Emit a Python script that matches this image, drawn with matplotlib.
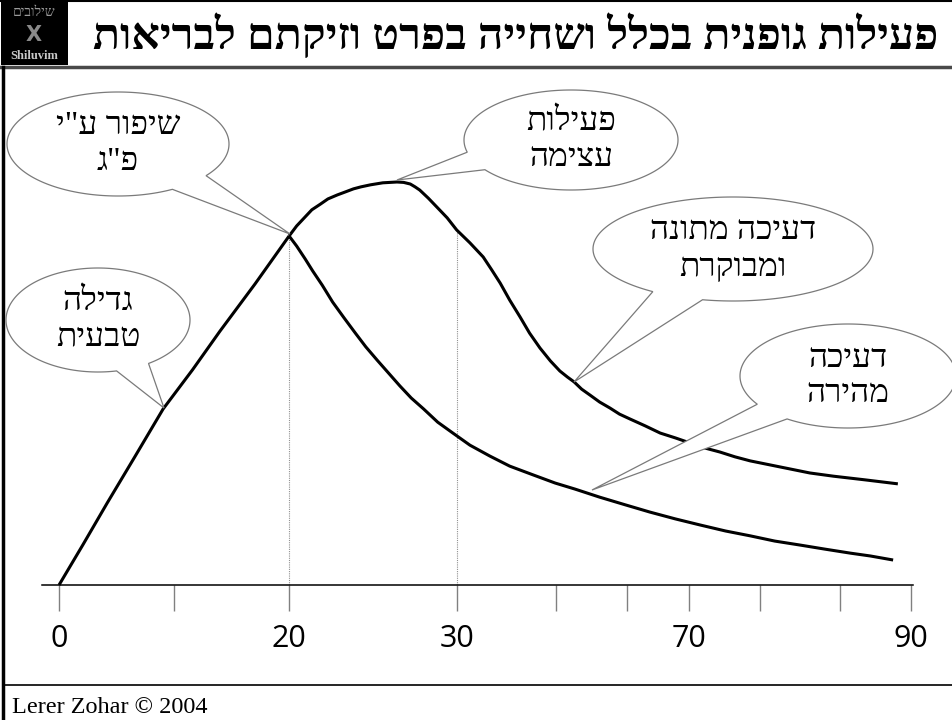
import numpy as np
import matplotlib.pyplot as plt
from matplotlib.patches import Polygon, Rectangle

# ----------------------------------------------------------------------------
# Dados (eixo conceitual: 0..90 no eixo x, atividade relativa 0..100 no eixo y)
# ----------------------------------------------------------------------------

tick_pos = [0, 12.1, 24.3, 42.0, 52.5, 60.0, 66.5, 74.0, 82.5, 90.0]
tick_labels = ['0', '', '20', '30', '', '', '70', '', '', '90']

# crescimento natural
rise_x = [0, 2.5, 5.1, 8.0, 11.0, 14.1, 17.0, 20.7, 24.3]
rise_y = [0, 9.9, 20.4, 31.8, 43.7, 53.4, 63.0, 74.7, 86.6]

# atividade intensa + declinio moderado
sustained_x = [24.3, 25.1, 25.9, 26.7, 27.6, 28.4, 29.4, 30.2, 31.1, 31.9, 32.9,
               34.2, 35.7, 36.4, 37.1, 37.6, 38.1, 39.0, 39.9, 41.0, 42.0,
               43.4, 44.8, 45.7, 46.6, 47.6, 48.7, 49.7, 50.8, 51.9, 52.9,
               53.7, 54.4, 55.2, 56.1, 57.1, 58.2, 59.2, 60.3, 61.9, 63.5,
               65.1, 66.7, 68.2, 69.8, 71.4, 73.0, 75.1, 77.2, 79.3, 81.8,
               85.1, 88.6]
sustained_y = [86.6, 89.1, 91.1, 93.1, 94.5, 95.8, 96.8, 97.5, 98.3, 98.8, 99.3,
               99.8, 100.0, 99.9, 99.5, 98.8, 98.0, 96.0, 93.8, 91.1, 88.1,
               84.9, 81.4, 78.2, 74.9, 70.7, 66.5, 62.5, 58.8, 55.6, 53.1,
               51.6, 50.4, 48.6, 47.1, 45.4, 43.9, 42.4, 41.2, 39.5, 37.7,
               36.5, 35.2, 34.0, 33.0, 31.8, 30.8, 29.8, 28.8, 27.8, 27.0,
               26.1, 25.1]

# declinio rapido
rapid_x = [24.3, 25.1, 26.0, 26.8, 27.8, 28.9, 30.1, 31.3, 32.4, 33.6, 34.8,
           36.0, 37.2, 38.5, 40.0, 41.6, 43.4, 45.5, 47.6, 50.1, 52.4,
           54.5, 57.1, 59.8, 62.4, 65.1, 67.7, 70.4, 73.0, 75.6, 78.3,
           80.9, 83.6, 85.7, 88.1]
rapid_y = [86.6, 84.1, 80.9, 77.9, 74.4, 70.2, 66.3, 62.5, 59.1, 55.8, 52.6,
           49.4, 46.4, 43.7, 40.4, 37.7, 34.7, 32.0, 29.5, 27.3, 25.3,
           23.8, 21.8, 19.9, 18.1, 16.4, 14.9, 13.4, 12.2, 10.9, 9.9,
           8.9, 7.9, 7.2, 6.2]

TITLE = 'פעילות גופנית בכלל ושחייה בפרט וזיקתם לבריאות'

HEB = ['Liberation Serif', 'DejaVu Sans']
EDGE = '#7a7a7a'


def rtl(s):
    # matplotlib nao faz bidi: inverte a ordem dos caracteres
    return s[::-1]


def callout(ax, center, a, b, base1, base2, tip, lines, dy=36, size=24):
    '''Balao eliptico com "rabo" (pixels, eixo y para baixo).'''
    cx, cy = center
    t1 = np.arctan2((base1[1] - cy) / b, (base1[0] - cx) / a)
    t2 = np.arctan2((base2[1] - cy) / b, (base2[0] - cx) / a)
    if (t2 - t1) % (2 * np.pi) > np.pi:
        t1, t2 = t2, t1
    t1 = t1 + 2 * np.pi if t1 < t2 else t1
    tt = np.linspace(t2, t1 if t1 > t2 else t1 + 2 * np.pi, 200)
    pts = np.column_stack([cx + a * np.cos(tt), cy + b * np.sin(tt)])
    pts = np.vstack([pts, tip])
    ax.add_patch(Polygon(pts, closed=True, facecolor='white', edgecolor=EDGE,
                         lw=0.9, zorder=5))
    y0 = cy - dy * (len(lines) - 1) / 2
    for i, line in enumerate(lines):
        ax.text(cx, y0 + i * dy, rtl(line), ha='center', va='center',
                fontsize=size, family=HEB, zorder=6)


fig = plt.figure(figsize=(9.52, 7.2), dpi=100)
fig.patch.set_facecolor('white')

# ---------------- grafico ----------------
ax = fig.add_axes([42 / 952, 135 / 720, 871 / 952, 403 / 720])
ax.set_facecolor('none')
ax.set_xlim(-1.8, 90.2)
ax.set_ylim(0, 100)
for s in ['left', 'right', 'top']:
    ax.spines[s].set_visible(False)
ax.spines['bottom'].set_linewidth(1.1)
ax.set_yticks([])
ax.set_xticks(tick_pos)
ax.set_xticklabels(tick_labels, fontsize=22, family='Open Sans')
ax.tick_params(axis='x', direction='out', length=19, width=1.0,
               color='#808080', pad=9)

y20 = rise_y[-1]
y30 = np.interp(tick_pos[3], sustained_x, sustained_y)
ax.vlines([tick_pos[2], tick_pos[3]], 0, [y20, y30], colors='#909090',
          linestyles=(0, (1, 1)), lw=0.8)

for xs, ys in [(rise_x, rise_y), (sustained_x, sustained_y), (rapid_x, rapid_y)]:
    ax.plot(xs, ys, color='black', lw=2.2, solid_capstyle='butt',
            solid_joinstyle='round', clip_on=False)

# ---------------- moldura, titulo e baloes (pixels) ----------------
ov = fig.add_axes([0, 0, 1, 1], zorder=3)
ov.set_xlim(0, 952)
ov.set_ylim(720, 0)
ov.axis('off')

ov.plot([0, 952], [1, 1], color='black', lw=1.5)
ov.plot([0, 952], [67, 67], color='#4a4a4a', lw=2.5)
ov.plot([3, 3], [67, 720], color='black', lw=2.5)
ov.plot([3, 952], [685, 685], color='black', lw=1.2)

# logo
ov.add_patch(Rectangle((1, 1), 67, 64, facecolor='black', edgecolor='none'))
ov.text(34, 13, rtl('שילובים'), ha='center', va='center', fontsize=10,
        color='#9a9a9a', family=HEB)
ov.text(34, 35, 'X', ha='center', va='center', fontsize=15, color='#8a8a8a',
        fontweight='bold', family='DejaVu Sans')
ov.text(34, 56, 'Shiluvim', ha='center', va='center', fontsize=9,
        color='#c8c8c8', fontweight='bold', family='Liberation Serif')

ov.text(938, 35, rtl(TITLE), ha='right', va='center', fontsize=32,
        fontweight='bold', family=HEB)

ov.text(12, 713, 'Lerer Zohar © 2004', ha='left', va='baseline',
        fontsize=17.5, family='Liberation Serif')

callout(ov, (118, 144), 111, 52, (207, 176), (172, 189), (290, 234),
        ['שיפור ע"י', 'פ"ג'])
callout(ov, (98, 320), 92, 52, (148, 363), (117, 372), (164, 408),
        ['גדילה', 'טבעית'])
callout(ov, (571, 140), 107, 50, (469, 152), (487, 169), (397, 180),
        ['פעילות', 'עצימה'], dy=35)
callout(ov, (733, 249), 140, 52, (654, 291), (703, 299), (574, 382),
        ['דעיכה מתונה', 'ומבוקרת'], dy=38)
callout(ov, (848, 376), 108, 52, (758, 404), (787, 419), (592, 490),
        ['דעיכה', 'מהירה'], dy=35)

fig.savefig('out.png', dpi=100, facecolor='white')
